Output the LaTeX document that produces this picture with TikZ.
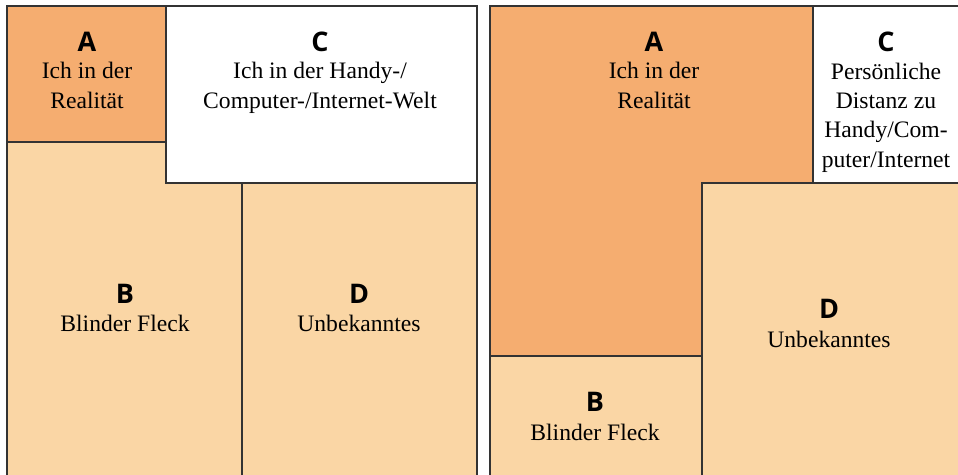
\documentclass[tikz,border=0pt]{standalone}
\usepackage{fontspec}
\setmainfont{Liberation Serif}
\newfontfamily\headfont{Open Sans}
\definecolor{fieldDark}{HTML}{F5AD70}
\definecolor{fieldLight}{HTML}{FAD6A5}
\begin{document}
\begin{tikzpicture}[x=1pt,y=-1pt,
  cell/.style={draw=black!80,line width=1.2pt},
  head/.style={anchor=base,font=\headfont\bfseries\fontsize{27}{30}\selectfont,inner sep=0pt},
  body/.style={anchor=base,align=center,font=\fontsize{23.6}{29.3}\selectfont,inner sep=0pt}]
\useasboundingbox (0,0) rectangle (958,474);
\clip (0,0) rectangle (958,474);

% left window
\path[cell,fill=fieldLight] (7,142) rectangle (242,490);
\path[cell,fill=fieldLight] (242,183) rectangle (477,490);
\path[cell,fill=white] (166,6) rectangle (477,183);
\path[cell,fill=fieldDark] (7,6) rectangle (166,142);

% right window
\path[cell,fill=fieldLight] (490,356) rectangle (702,490);
\path[cell,fill=fieldLight] (702,183) rectangle (970,490);
\path[cell,fill=white] (813,6) rectangle (970,183);
\path[cell,fill=fieldDark] (490,6) -- (813,6) -- (813,183) -- (702,183) -- (702,356) -- (490,356) -- cycle;

% left labels (multi-line texts are placed by their last baseline)
\node[head] (lA) at (87,51) {A};
\node[body] (lAt) at (87,108) {Ich in der\\Realität};
\node[head] (lC) at (320,51) {C};
\node[body] (lCt) at (320,108) {Ich in der Handy-/\\Computer-/Internet-Welt};
\node[head] (lB) at (125,303) {B};
\node[body] (lBt) at (125,331) {Blinder Fleck};
\node[head] (lD) at (359,303) {D};
\node[body] (lDt) at (359,331) {Unbekanntes};

% right labels
\node[head] (rA) at (654,51) {A};
\node[body] (rAt) at (654,108) {Ich in der\\Realität};
\node[head] (rC) at (886,51) {C};
\node[body] (rCt) at (886,167) {Persönliche\\Distanz zu\\Handy/Com-\\puter/Internet};
\node[head] (rD) at (829,318) {D};
\node[body] (rDt) at (829,347) {Unbekanntes};
\node[head] (rB) at (595,411) {B};
\node[body] (rBt) at (595,440) {Blinder Fleck};
\end{tikzpicture}
\end{document}
